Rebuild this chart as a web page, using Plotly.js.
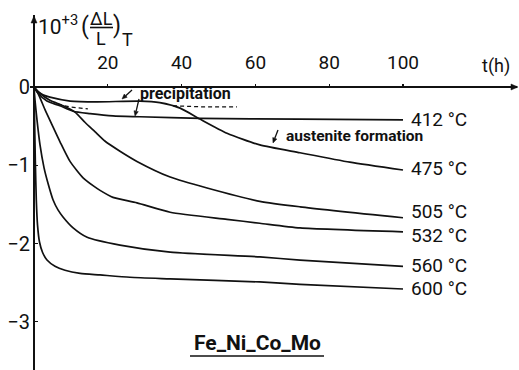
<!DOCTYPE html>
<html>
<head>
<meta charset="utf-8">
<script src="https://cdn.plot.ly/plotly-3.0.1.min.js"></script>
<style>html,body{margin:0;padding:0;background:#fff}#chart{width:519px;height:370px}</style>
</head>
<body>
<div id="chart"></div>
<script>
// ---- data (t in hours, 10^3·ΔL/L) ----
const seriesNames = ["412 °C", "475 °C", "505 °C", "532 °C", "560 °C", "600 °C"];

const t412 = [0, 1.1, 3.5, 7.0, 10.6, 15.2, 21.4, 28.7, 45, 72, 100];
const v412 = [0, -0.08, -0.18, -0.24, -0.31, -0.34, -0.37, -0.38, -0.40, -0.41, -0.42];

const t475 = [0, 1.1, 2.4, 4.3, 9.8, 17.1, 28.7, 34.1, 39.6, 45.0, 52.3, 61.2, 72.1, 85.6, 100];
const v475 = [0, -0.06, -0.10, -0.13, -0.18, -0.19, -0.18, -0.20, -0.27, -0.41, -0.59, -0.74, -0.84, -0.96, -1.06];

const t505 = [0, 1.6, 4.3, 7.9, 11.1, 13.8, 16.5, 19.2, 23.3, 27.9, 36.9, 46.9, 61.2, 72.1, 100];
const v505 = [0, -0.08, -0.17, -0.24, -0.32, -0.45, -0.57, -0.69, -0.82, -0.95, -1.15, -1.29, -1.46, -1.53, -1.67];

const t532 = [0, 1.08, 2.98, 5.15, 7.05, 9.76, 13.3, 16.0, 17.9, 21.4, 27.9, 36.9, 52.3, 61.2, 72.1, 100];
const v532 = [0, -0.08, -0.29, -0.51, -0.70, -0.95, -1.16, -1.26, -1.32, -1.41, -1.48, -1.60, -1.69, -1.74, -1.80, -1.85];

const t560 = [0, 0.27, 0.81, 1.63, 2.71, 3.79, 5.15, 6.5, 7.86, 10.6, 14.4, 23.3, 36.9, 61.2, 72.1, 100];
const v560 = [0, -0.17, -0.42, -0.74, -1.03, -1.23, -1.44, -1.57, -1.66, -1.80, -1.92, -2.02, -2.11, -2.17, -2.21, -2.29];

const t600 = [0, 0.16, 0.35, 0.62, 0.95, 1.49, 2.30, 3.52, 5.69, 8.4, 12.5, 17.9, 26.0, 36.9, 61.2, 72.1, 100];
const v600 = [0, -0.42, -0.93, -1.44, -1.76, -1.98, -2.11, -2.21, -2.29, -2.34, -2.38, -2.40, -2.43, -2.45, -2.49, -2.52, -2.58];

// dashed reference curve (two visible pieces)
const tDash = [6.5, 9.8, 14.6, null, 37.7, 46.3, 55];
const vDash = [-0.22, -0.255, -0.28, null, -0.24, -0.255, -0.255];

const xTickVals = [20, 40, 60, 80, 100];
const xTickText = ["20", "40", "60", "80", "100"];
const yTickVals = [0, -1, -2, -3];
const yTickText = ["0", "\u22121", "\u22122", "\u22123"];

// ---- layout helpers ----
const W = 519, H = 370;
const ML = 30, MR = 2, MT = 15, MB = 0;
const PW = W - ML - MR, PH = H - MT - MB;
const xp = px => (px - ML) / PW;
const yp = py => (H - MB - py) / PH;
const FONT = 'Roboto, "Liberation Sans", "DejaVu Sans", sans-serif';
const INK = '#111';

const tSeries = [t412, t475, t505, t532, t560, t600];
const vSeries = [v412, v475, v505, v532, v560, v600];

const traces = tSeries.map((t, i) => ({
  x: t, y: vSeries[i], name: seriesNames[i], type: 'scatter', mode: 'lines',
  line: {color: INK, width: 1.7, shape: 'spline', smoothing: 0.6}, hoverinfo: 'skip'
}));
traces.push({
  x: tDash, y: vDash, type: 'scatter', mode: 'lines', connectgaps: false,
  line: {color: INK, width: 1.3, dash: '4px,3px'}, hoverinfo: 'skip'
});

const labelY = [-0.41, -1.047, -1.595, -1.895, -2.286, -2.567];
const annotations = seriesNames.map((s, i) => ({
  x: 101.6, y: labelY[i], xref: 'x', yref: 'y', text: s, showarrow: false,
  xanchor: 'left', yanchor: 'middle', font: {family: FONT, size: 19, color: INK}
}));

function pt(px, py, text, size, opts) {
  return Object.assign({
    x: xp(px), y: yp(py), xref: 'paper', yref: 'paper', text: text, showarrow: false,
    xanchor: 'center', yanchor: 'middle', font: {family: FONT, size: size, color: INK}
  }, opts || {});
}

annotations.push(
  pt(185, 93, '<b>precipitation</b>', 16),
  pt(284, 136, '<b>austenite formation</b>', 15.5, {xanchor: 'left'}),
  pt(257, 343, '<b>Fe_Ni_Co_Mo</b>', 21),
  pt(496, 66, 't(h)', 18),
  // y-axis title pieces
  pt(36, 25, '10<sup>+3</sup>', 21, {xanchor: 'left'}),
  pt(85, 27, '(', 23),
  pt(101, 19, 'ΔL', 18),
  pt(101, 38, 'L', 18),
  pt(117, 26, ')', 23),
  pt(127, 39, 'T', 18)
);

// arrows as shapes (line + filled head), given in pixel positions
function arrowShapes(tipx, tipy, tailx, taily, w, hl, hw) {
  const dx = tipx - tailx, dy = tipy - taily, L = Math.hypot(dx, dy);
  const ux = dx / L, uy = dy / L, nx = -uy, ny = ux;
  const bx = tipx - ux * hl, by = tipy - uy * hl;
  const p1 = [bx + nx * hw, by + ny * hw], p2 = [bx - nx * hw, by - ny * hw];
  const P = (x, y) => xp(x) + ' ' + yp(y);
  return [
    {type: 'line', xref: 'paper', yref: 'paper', x0: xp(tailx), y0: yp(taily), x1: xp(bx), y1: yp(by),
     line: {color: INK, width: w}},
    {type: 'path', xref: 'paper', yref: 'paper',
     path: 'M ' + P(tipx, tipy) + ' L ' + P(p1[0], p1[1]) + ' L ' + P(p2[0], p2[1]) + ' Z',
     fillcolor: INK, line: {color: INK, width: 0.5}}
  ];
}

const shapes = [
  {type: 'line', xref: 'paper', yref: 'paper', x0: xp(90), x1: xp(113), y0: yp(27.5), y1: yp(27.5),
   line: {color: INK, width: 1.6}},
  {type: 'line', xref: 'paper', yref: 'paper', x0: xp(190), x1: xp(324), y0: yp(356), y1: yp(356),
   line: {color: INK, width: 1.6}}
].concat(
  arrowShapes(122, 99, 132, 90, 1.3, 5, 2.2),
  arrowShapes(135, 116, 139, 99, 1.3, 5, 2.2),
  arrowShapes(273, 143, 278, 130, 1.3, 5, 2.2),
  arrowShapes(34, 16, 34, 30, 1.6, 7, 3),
  arrowShapes(518, 87, 504, 87, 1.6, 7, 3)
);

const xr = [-(34 - ML) / 3.69, (517 - ML) / 3.69 - (34 - ML) / 3.69];
const yr = [-(H - MB - 87) / 78.3, (87 - MT) / 78.3];

const layout = {
  width: W, height: H,
  margin: {l: ML, r: MR, t: MT, b: MB, pad: 0},
  paper_bgcolor: '#fff', plot_bgcolor: '#fff',
  showlegend: false, hovermode: false,
  font: {family: FONT, color: INK},
  xaxis: {
    range: xr, showgrid: false, showline: false,
    zeroline: true, zerolinecolor: INK, zerolinewidth: 1.9,
    anchor: 'free', position: (0 - yr[0]) / (yr[1] - yr[0]), side: 'top',
    tickmode: 'array', tickvals: xTickVals, ticktext: xTickText,
    ticks: 'outside', ticklen: 3, tickwidth: 1.2, tickcolor: INK,
    tickfont: {family: FONT, size: 19, color: INK}, ticklabelstandoff: 7,
    fixedrange: true
  },
  yaxis: {
    range: yr, showgrid: false, showline: false,
    zeroline: true, zerolinecolor: INK, zerolinewidth: 1.5,
    anchor: 'free', position: (0 - xr[0]) / (xr[1] - xr[0]),
    tickmode: 'array', tickvals: yTickVals, ticktext: yTickText,
    ticks: 'inside', ticklen: 3, tickwidth: 1.2, tickcolor: INK,
    tickfont: {family: FONT, size: 20, color: INK}, ticklabelstandoff: 4,
    fixedrange: true
  },
  annotations: annotations,
  shapes: shapes
};

Plotly.newPlot('chart', traces, layout, {staticPlot: true, displayModeBar: false});
</script>
</body>
</html>
